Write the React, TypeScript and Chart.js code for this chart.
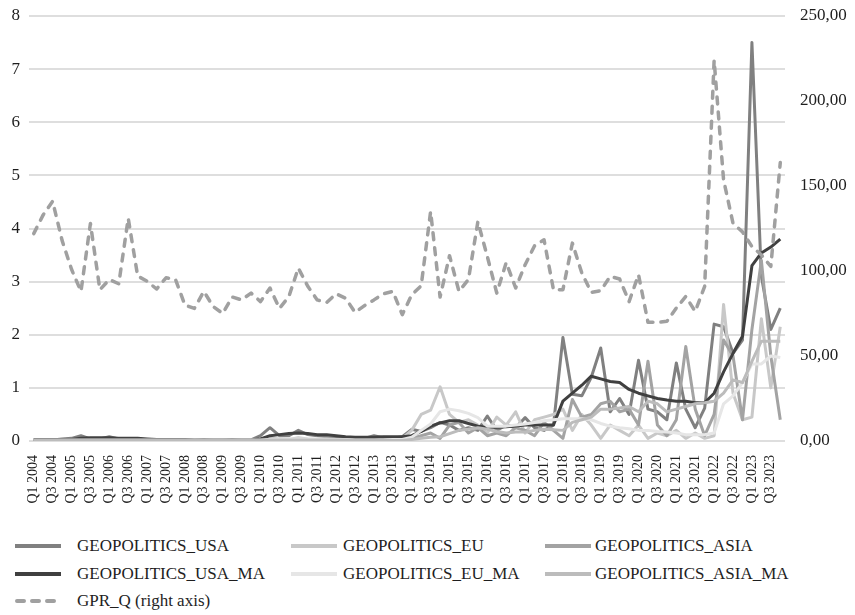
import React, { useEffect, useRef } from "react";
import { Chart, registerables } from "chart.js";

Chart.register(...registerables);

const YEARS = [2004, 2005, 2006, 2007, 2008, 2009, 2010, 2011, 2012, 2013, 2014, 2015, 2016, 2017, 2018, 2019, 2020, 2021, 2022, 2023];
const QUARTERS = ["Q1", "Q2", "Q3", "Q4"];
const LABELS: string[] = [];
YEARS.forEach((y) => QUARTERS.forEach((q) => LABELS.push(q + " " + y)));

const GEOPOLITICS_USA = [
  0.03, 0.02, 0.02, 0.04, 0.05, 0.1, 0.04, 0.04, 0.08, 0.04,
  0.04, 0.03, 0.03, 0.03, 0.03, 0.02, 0.02, 0.02, 0.03, 0.02,
  0.02, 0.03, 0.02, 0.02, 0.1, 0.25, 0.1, 0.1, 0.2, 0.12,
  0.1, 0.08, 0.06, 0.06, 0.05, 0.05, 0.1, 0.06, 0.05, 0.08,
  0.22, 0.18, 0.25, 0.35, 0.3, 0.2, 0.25, 0.2, 0.47, 0.2,
  0.3, 0.25, 0.44, 0.25, 0.2, 0.3, 1.95, 0.88, 0.85, 1.2,
  1.75, 0.55, 0.8, 0.5, 1.52, 0.6, 0.55, 0.4, 1.47, 0.6,
  0.25, 0.62, 2.2, 2.15, 1.65, 1.9, 7.5, 3.1, 2.1, 2.5,
];
const GEOPOLITICS_EU = [
  0.02, 0.01, 0.01, 0.02, 0.02, 0.03, 0.02, 0.02, 0.03, 0.02,
  0.02, 0.02, 0.01, 0.02, 0.02, 0.01, 0.02, 0.02, 0.01, 0.02,
  0.02, 0.01, 0.02, 0.02, 0.03, 0.05, 0.04, 0.03, 0.06, 0.04,
  0.03, 0.03, 0.02, 0.02, 0.02, 0.02, 0.03, 0.02, 0.03, 0.05,
  0.2, 0.5, 0.58, 1.02, 0.5, 0.35, 0.4, 0.3, 0.15, 0.45,
  0.3, 0.55, 0.15, 0.4, 0.45, 0.5, 0.6, 0.2, 0.5, 0.3,
  0.05, 0.3, 0.2, 0.1, 0.3, 0.05, 0.15, 0.1, 0.2, 0.05,
  0.15, 0.05, 0.1, 2.57, 0.9, 0.4, 0.45, 2.3, 1.0, 2.15,
];
const GEOPOLITICS_ASIA = [
  0.01, 0.01, 0.01, 0.01, 0.02, 0.02, 0.01, 0.01, 0.02, 0.01,
  0.01, 0.01, 0.01, 0.01, 0.01, 0.01, 0.01, 0.01, 0.01, 0.01,
  0.01, 0.01, 0.01, 0.01, 0.02, 0.03, 0.02, 0.02, 0.03, 0.02,
  0.02, 0.02, 0.01, 0.01, 0.01, 0.01, 0.02, 0.01, 0.01, 0.02,
  0.05, 0.1, 0.15, 0.05, 0.3, 0.35, 0.15, 0.25, 0.1, 0.15,
  0.1, 0.25, 0.2, 0.1, 0.35, 0.2, 0.05, 0.78, 0.45, 0.5,
  0.7, 0.75, 0.55, 0.6, 0.3, 1.5, 0.3, 0.1, 0.4, 1.78,
  0.6, 0.1, 0.5, 1.9, 1.6, 0.4, 2.1, 3.4, 1.6, 0.4,
];
const GEOPOLITICS_USA_MA = [
  0.03, 0.03, 0.03, 0.03, 0.03, 0.05, 0.06, 0.06, 0.06, 0.05,
  0.05, 0.05, 0.04, 0.03, 0.03, 0.03, 0.03, 0.02, 0.02, 0.02,
  0.02, 0.02, 0.02, 0.02, 0.04, 0.1, 0.12, 0.14, 0.15, 0.14,
  0.12, 0.12, 0.1, 0.08, 0.07, 0.07, 0.07, 0.08, 0.08, 0.08,
  0.1, 0.18, 0.28, 0.34, 0.38, 0.38, 0.33, 0.28, 0.26, 0.26,
  0.27, 0.28, 0.3, 0.3, 0.3, 0.3, 0.75, 0.9, 1.05, 1.22,
  1.17, 1.12, 1.1, 0.97, 0.9, 0.85, 0.8, 0.77, 0.75, 0.75,
  0.72, 0.72, 0.9, 1.3, 1.65, 1.97, 3.3, 3.54, 3.65, 3.8,
];
const GEOPOLITICS_EU_MA = [
  0.02, 0.02, 0.02, 0.02, 0.02, 0.02, 0.02, 0.02, 0.02, 0.02,
  0.02, 0.02, 0.02, 0.02, 0.02, 0.02, 0.02, 0.02, 0.02, 0.02,
  0.02, 0.02, 0.02, 0.02, 0.02, 0.03, 0.03, 0.04, 0.04, 0.04,
  0.04, 0.04, 0.03, 0.03, 0.02, 0.02, 0.02, 0.02, 0.03, 0.03,
  0.07, 0.2, 0.32, 0.55, 0.6, 0.57, 0.52, 0.44, 0.28, 0.28,
  0.28, 0.3, 0.32, 0.35, 0.38, 0.4, 0.42, 0.42, 0.42, 0.4,
  0.33, 0.28, 0.25, 0.23, 0.2, 0.2, 0.18, 0.17, 0.15, 0.12,
  0.12, 0.12, 0.15, 0.7, 0.85, 1.1, 1.45, 1.45, 1.6, 1.57,
];
const GEOPOLITICS_ASIA_MA = [
  0.01, 0.01, 0.01, 0.01, 0.01, 0.01, 0.01, 0.01, 0.01, 0.01,
  0.01, 0.01, 0.01, 0.01, 0.01, 0.01, 0.01, 0.01, 0.01, 0.01,
  0.01, 0.01, 0.01, 0.01, 0.01, 0.02, 0.02, 0.02, 0.02, 0.02,
  0.02, 0.02, 0.02, 0.02, 0.01, 0.01, 0.01, 0.01, 0.01, 0.01,
  0.03, 0.05, 0.07, 0.08, 0.14, 0.2, 0.22, 0.25, 0.22, 0.18,
  0.15, 0.17, 0.17, 0.2, 0.22, 0.21, 0.2, 0.35, 0.4, 0.45,
  0.6, 0.6, 0.62, 0.65, 0.55, 0.75, 0.7, 0.55, 0.6, 0.65,
  0.7, 0.72, 0.75, 0.9, 1.15, 1.1, 1.5, 1.88, 1.88, 1.88,
];
const GPR_Q = [
  122, 133, 141, 118, 101, 88, 128, 89, 95, 92.5,
  131, 97, 94, 89.4, 96, 95, 80, 78, 88, 79,
  75, 84.7, 83, 87, 82, 90, 78, 85, 101.7, 91,
  83, 81.5, 86.6, 84, 75.7, 79.6, 83, 86.6, 88, 74.3,
  86, 91.3, 135, 84.7, 109, 88, 95, 129, 108.5, 87,
  105, 90, 103.7, 114.8, 118.4, 89, 89, 116.4, 98.8, 87.4,
  88.4, 96.8, 95.3, 82, 97.8, 69.8, 69.8, 70.4, 78.2, 85,
  76.2, 91, 224, 153.6, 128, 123, 114.4, 109.5, 102.7, 163.8,
];

const LEFT_TICKS = [0, 1, 2, 3, 4, 5, 6, 7, 8];
const RIGHT_TICKS = [0, 50, 100, 150, 200, 250];

const SERIES = [
  { name: "GEOPOLITICS_USA", data: GEOPOLITICS_USA, color: "#808080", dash: false, axis: "y" },
  { name: "GEOPOLITICS_EU", data: GEOPOLITICS_EU, color: "#c8c8c8", dash: false, axis: "y" },
  { name: "GEOPOLITICS_ASIA", data: GEOPOLITICS_ASIA, color: "#a3a3a3", dash: false, axis: "y" },
  { name: "GEOPOLITICS_USA_MA", data: GEOPOLITICS_USA_MA, color: "#404040", dash: false, axis: "y" },
  { name: "GEOPOLITICS_EU_MA", data: GEOPOLITICS_EU_MA, color: "#e6e6e6", dash: false, axis: "y" },
  { name: "GEOPOLITICS_ASIA_MA", data: GEOPOLITICS_ASIA_MA, color: "#bcbcbc", dash: false, axis: "y" },
  { name: "GPR_Q (right axis)", data: GPR_Q, color: "#a0a0a0", dash: true, axis: "y1" },
];

const FONT = "'Liberation Serif', 'Times New Roman', serif";
const TEXT = "#1e1e1e";

export default function App() {
  const ref = useRef<HTMLCanvasElement>(null);
  useEffect(() => {
    if (!ref.current) return;
    const n = SERIES.length;
    const chart = new Chart(ref.current, {
      type: "line",
      data: {
        labels: LABELS,
        datasets: SERIES.map((s, i) => ({
          label: s.name,
          data: s.data,
          yAxisID: s.axis,
          borderColor: s.color,
          backgroundColor: s.color,
          borderWidth: s.dash ? 3.5 : 3,
          borderDash: s.dash ? [7, 8] : [],
          borderCapStyle: s.dash ? "round" : "butt",
          borderJoinStyle: "round",
          pointRadius: 0,
          tension: 0,
          fill: false,
          order: n - i,
        })),
      },
      options: {
        responsive: false,
        animation: false,
        layout: { padding: { top: 16, left: 0, right: 0, bottom: 0 } },
        plugins: { legend: { display: false }, tooltip: { enabled: false } },
        scales: {
          x: {
            offset: true,
            grid: { display: false, drawTicks: false },
            border: { display: false },
            ticks: {
              autoSkip: false,
              maxRotation: 90,
              minRotation: 90,
              padding: 14,
              color: TEXT,
              font: { family: FONT, size: 14 },
              callback: (_v: any, i: number) => (i % 2 === 0 ? LABELS[i] : ""),
            },
            afterFit: (s: any) => { s.height = 84; s.paddingLeft = 0; s.paddingRight = 0; },
          },
          y: {
            position: "left",
            min: 0,
            max: 8,
            afterBuildTicks: (s: any) => { s.ticks = LEFT_TICKS.map((v) => ({ value: v })); },
            grid: { color: "#dedede", lineWidth: 2, drawTicks: false },
            border: { display: false },
            ticks: { padding: 9, color: TEXT, font: { family: FONT, size: 17 } },
            afterFit: (s: any) => { s.width = 29; s.paddingTop = 0; s.paddingBottom = 0; },
          },
          y1: {
            position: "right",
            min: 0,
            max: 250,
            afterBuildTicks: (s: any) => { s.ticks = RIGHT_TICKS.map((v) => ({ value: v })); },
            grid: { display: false, drawTicks: false },
            border: { display: false },
            ticks: {
              padding: 15,
              color: TEXT,
              font: { family: FONT, size: 17 },
              callback: (v: any) => Number(v).toFixed(2).replace(".", ","),
            },
            afterFit: (s: any) => { s.width = 70; s.paddingTop = 0; s.paddingBottom = 0; },
          },
        },
      },
    } as any);
    return () => chart.destroy();
  }, []);

  const cols = [
    { line: 15, text: 77 },
    { line: 291, text: 343 },
    { line: 545, text: 595 },
  ];
  const rows = [546, 574, 601];

  return (
    <div style={{ position: "fixed", left: 0, top: 0, width: 855, height: 615, background: "#fff", fontFamily: FONT }}>
      <canvas ref={ref} width={855} height={525} style={{ display: "block" }} />
      {SERIES.map((s, i) => {
        const c = cols[i % 3];
        const r = rows[Math.floor(i / 3)];
        return (
          <React.Fragment key={s.name}>
            <svg style={{ position: "absolute", left: c.line, top: r - 4 }} width={48} height={8}>
              <line
                x1={s.dash ? 2 : 0}
                y1={4}
                x2={s.dash ? 44 : 46}
                y2={4}
                stroke={s.color}
                strokeWidth={4}
                strokeDasharray={s.dash ? "7 8" : undefined}
                strokeLinecap={s.dash ? "round" : "butt"}
              />
            </svg>
            <div
              style={{
                position: "absolute",
                left: c.text,
                top: r - 11,
                fontSize: 17,
                lineHeight: "22px",
                color: TEXT,
                whiteSpace: "nowrap",
              }}
            >
              {s.name}
            </div>
          </React.Fragment>
        );
      })}
    </div>
  );
}
